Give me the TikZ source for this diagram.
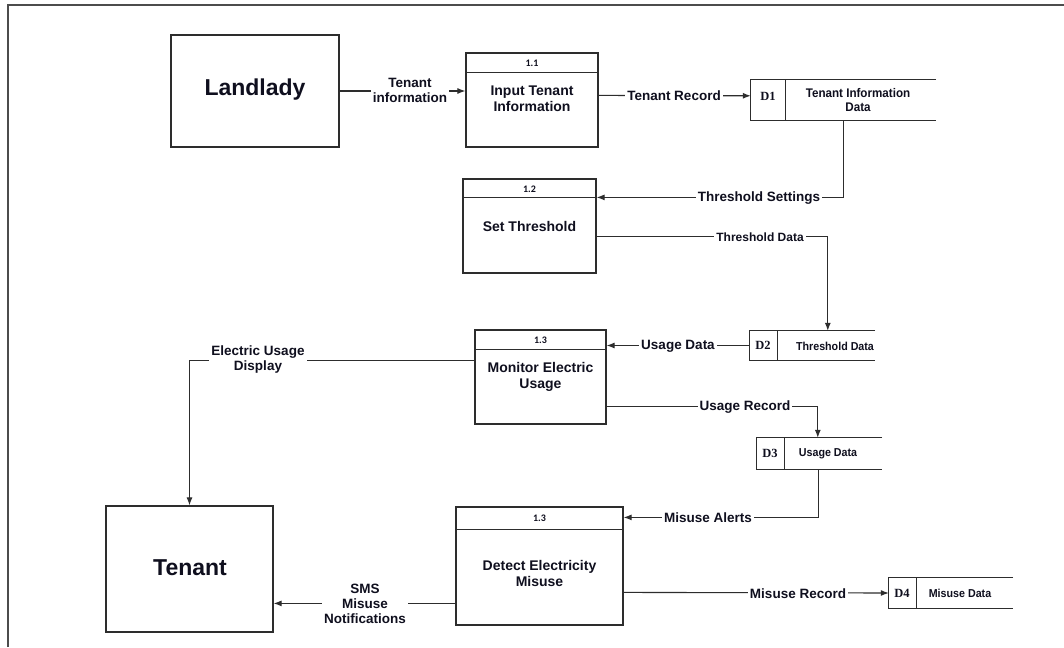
\documentclass[tikz,border=0pt]{standalone}
\usepackage{fontspec}
\setmainfont{Liberation Sans}
\newfontfamily\numfont{Carlito}
\newfontfamily\storefont[FakeStretch=0.93]{Liberation Sans}
\newfontfamily\idfont{Liberation Serif}
\usetikzlibrary{arrows.meta,calc}
\definecolor{linec}{RGB}{45,45,45}
\definecolor{txt}{RGB}{15,15,30}
\begin{document}
\begin{tikzpicture}[x=1pt,y=-1pt,
  box/.style={draw=linec, line width=1.2pt, inner sep=0pt},
  storebox/.style={inner sep=0pt},
  flow/.style={draw=linec, line width=1.1pt, -{Latex[length=8pt,width=6pt]}},
  plain/.style={draw=linec, line width=1.1pt},
  lbl/.style={fill=white, inner sep=2pt, text=txt, align=center, font=\bfseries\fontsize{13.5}{15}\selectfont},
  slbl/.style={fill=white, inner sep=2pt, text=txt, align=center, font=\bfseries\fontsize{12}{14}\selectfont},
  ptext/.style={text=txt, align=center, font=\bfseries\fontsize{14}{16}\selectfont},
  ent/.style={text=txt, font=\bfseries\fontsize{23}{26}\selectfont},
  num/.style={text=txt, font=\numfont\bfseries\fontsize{10}{12}\selectfont},
  sid/.style={text=txt, font=\idfont\bfseries\fontsize{12.5}{14}\selectfont},
  sname/.style={text=txt, align=center, font=\storefont\bfseries\fontsize{11.5}{13.5}\selectfont},
  bname/.style={text=txt, align=center, font=\storefont\bfseries\fontsize{12.5}{14}\selectfont}
]
\useasboundingbox (0,0) rectangle (1064,647);
\fill[white] (0,0) rectangle (1064,647);
% frame
\draw[gray!60!black, line width=1.6pt] (8,647) -- (8,5) -- (1064,5);

% external entities
\node[box, minimum width=168pt, minimum height=112pt] (landlady) at (255,91) {};
\node[ent] (landladyt) at (255,90) {Landlady};
\node[box, minimum width=167pt, minimum height=126pt] (tenant) at (189.5,569) {};
\node[ent] (tenantt) at (190,568) {Tenant};

% processes
\node[box, minimum width=132pt, minimum height=94pt] (p11) at (532,100) {};
\draw[plain] ($(p11.north west)+(0,20)$) -- ($(p11.north east)+(0,20)$);
\node[num] (p11n) at (532,63) {1.1};
\node[ptext] (p11t) at (532,99) {Input Tenant\\Information};

\node[box, minimum width=133pt, minimum height=94pt] (p12) at (529.5,226) {};
\draw[plain] ($(p12.north west)+(0,19)$) -- ($(p12.north east)+(0,19)$);
\node[num] (p12n) at (529.5,189) {1.2};
\node[ptext] (p12t) at (529.5,226) {Set Threshold};

\node[box, minimum width=131pt, minimum height=94pt] (p13) at (540.5,377) {};
\draw[plain] ($(p13.north west)+(0,20)$) -- ($(p13.north east)+(0,20)$);
\node[num] (p13n) at (540.5,340) {1.3};
\node[ptext] (p13t) at (540.5,377) {Monitor Electric\\Usage};

\node[box, minimum width=167pt, minimum height=118pt] (p14) at (539.5,566) {};
\draw[plain] ($(p14.north west)+(0,23)$) -- ($(p14.north east)+(0,23)$);
\node[num] (p14n) at (539.5,518) {1.3};
\node[ptext] (p14t) at (539.5,573) {Detect Electricity\\Misuse};

% data stores
\node[storebox, minimum width=185pt, minimum height=40pt] (d1) at (843.5,100) {};
\draw[plain] (d1.north east) -- (d1.north west) -- (d1.south west) -- (d1.south east);
\draw[plain] ($(d1.north west)+(35,0)$) -- ($(d1.south west)+(35,0)$);
\node[sid] (d1i) at (768,96) {D1};
\node[bname] (d1t) at (858,100) {Tenant Information\\Data};

\node[storebox, minimum width=125pt, minimum height=29pt] (d2) at (812.5,345.5) {};
\draw[plain] (d2.north east) -- (d2.north west) -- (d2.south west) -- (d2.south east);
\draw[plain] ($(d2.north west)+(28,0)$) -- ($(d2.south west)+(28,0)$);
\node[sid] (d2i) at (763,345.5) {D2};
\node[sname] (d2t) at (835,346) {Threshold Data};

\node[storebox, minimum width=125pt, minimum height=31pt] (d3) at (819.5,453.5) {};
\draw[plain] (d3.north east) -- (d3.north west) -- (d3.south west) -- (d3.south east);
\draw[plain] ($(d3.north west)+(28,0)$) -- ($(d3.south west)+(28,0)$);
\node[sid] (d3i) at (770,453.5) {D3};
\node[sname] (d3t) at (828,453.5) {Usage Data};

\node[storebox, minimum width=124pt, minimum height=30pt] (d4) at (951,593) {};
\draw[plain] (d4.north east) -- (d4.north west) -- (d4.south west) -- (d4.south east);
\draw[plain] ($(d4.north west)+(28,0)$) -- ($(d4.south west)+(28,0)$);
\node[sid] (d4i) at (902,593) {D4};
\node[sname] (d4t) at (960,593) {Misuse Data};

% flows
\draw[flow] (landlady.east) -- (landlady.east -| p11.west);
\draw[flow] ($(p11.north east)+(0,43)$) -- ($(d1.north west)+(0,16)$);
\draw[flow] (d1.south) |- ($(p12.north east)+(0,19)$);
\draw[flow] ($(p12.north east)+(0,58)$) -| ($(d2.north west)+(78,0)$);
\draw[flow] (d2.west) -- (d2.west -| p13.east);
\draw[flow] ($(p13.north east)+(0,77)$) -| ($(d3.north west)+(61,0)$);
\draw[flow] ($(d3.south west)+(62,0)$) |- ($(p14.north east)+(0,11)$);
\draw[flow] ($(p13.north west)+(0,31)$) -| (tenant.north);
\draw[flow] ($(p14.north west)+(0,97)$) coordinate (s1) -- (s1 -| tenant.east);
\draw[flow] ($(p14.north east)+(0,86)$) -- (d4.west);

% flow labels
\node[lbl] (l1) at (410,90) {Tenant\\information};
\node[lbl] (l2) at (674,96) {Tenant Record};
\node[lbl] (l3) at (759,198) {Threshold Settings};
\node[slbl] (l4) at (760,237) {Threshold Data};
\node[lbl] (l5) at (678,346) {Usage Data};
\node[lbl] (l6) at (745,407) {Usage Record};
\node[lbl] (l7) at (708,518) {Misuse Alerts};
\node[lbl] (l8) at (258,360) {Electric Usage\\Display};
\node[lbl] (l9) at (365,604) {SMS\\Misuse\\Notifications};
\node[lbl] (l10) at (798,594) {Misuse Record};
\end{tikzpicture}
\end{document}
